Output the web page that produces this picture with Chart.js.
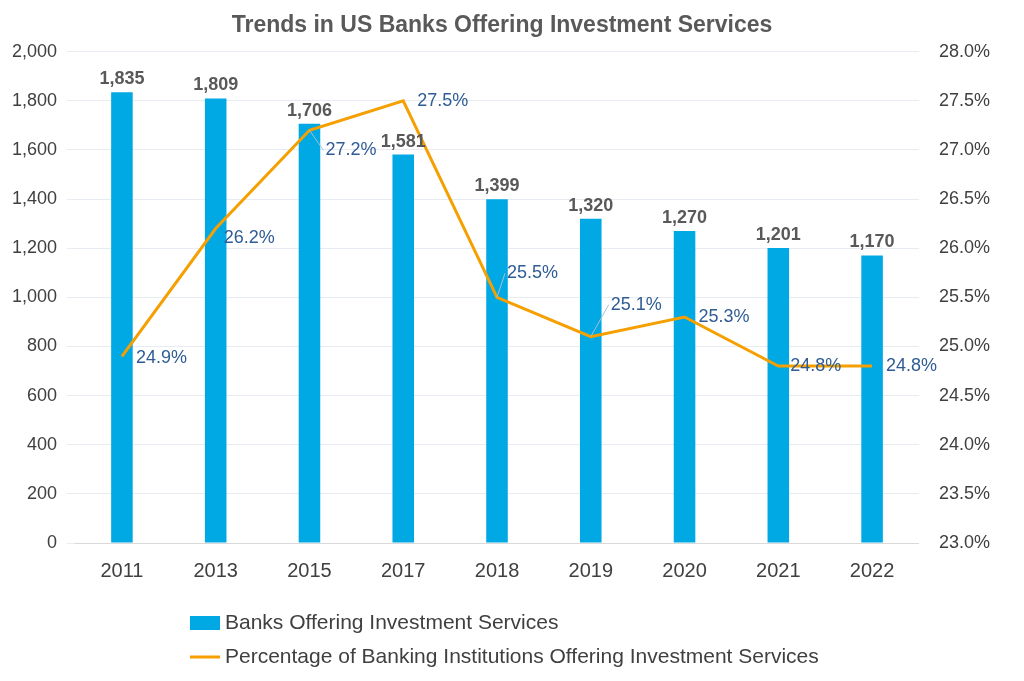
<!DOCTYPE html>
<html>
<head>
<meta charset="utf-8">
<script src="https://cdn.jsdelivr.net/npm/chart.js@4"></script>
<style>
  body { margin: 0; background: #fff; }
  #wrap { width: 1024px; height: 681px; }
</style>
</head>
<body>
<div id="wrap"><canvas id="c" width="1024" height="681"></canvas></div>
<script>
var years = ['2011', '2013', '2015', '2017', '2018', '2019', '2020', '2021', '2022'];
var banks = [1835, 1809, 1706, 1581, 1399, 1320, 1270, 1201, 1170];
var pct = [24.9, 26.2, 27.2, 27.5, 25.5, 25.1, 25.3, 24.8, 24.8];

var barColor = '#00A9E3';
var lineColor = '#F5A000';
var font = 'Arial, "Liberation Sans", sans-serif';

// label offsets for the percentage labels [dx, dy, leader]
var pctOffsets = [[14, 2, 0], [8, 10, 0], [16, 20, 1], [14, 0, 0], [10, -24, 1], [20, -32, 1], [14, 0, 0], [12, 0, 0], [14, 0, 0]];

var labelPlugin = {
  id: 'labels',
  afterDatasetsDraw: function (chart) {
    var ctx = chart.ctx;
    ctx.save();
    var bars = chart.getDatasetMeta(0).data;
    ctx.font = 'bold 18px ' + font;
    ctx.fillStyle = '#595959';
    ctx.textAlign = 'center';
    ctx.textBaseline = 'bottom';
    bars.forEach(function (b, i) {
      ctx.fillText(banks[i].toLocaleString('en-US'), b.x, b.y - 4);
    });
    var pts = chart.getDatasetMeta(1).data;
    ctx.font = '18px ' + font;
    ctx.textAlign = 'left';
    ctx.textBaseline = 'middle';
    pts.forEach(function (p, i) {
      var o = pctOffsets[i];
      var tx = p.x + o[0], ty = p.y + o[1];
      if (o[2]) {
        ctx.strokeStyle = '#A6BFD9';
        ctx.lineWidth = 1;
        ctx.beginPath();
        ctx.moveTo(p.x, p.y);
        ctx.lineTo(tx - 2, ty);
        ctx.stroke();
      }
      ctx.fillStyle = '#2F5C94';
      ctx.fillText(pct[i].toFixed(1) + '%', tx, ty);
    });
    ctx.restore();
  }
};

var legendPlugin = {
  id: 'bottomLegend',
  afterDraw: function (chart) {
    var ctx = chart.ctx;
    ctx.save();
    ctx.font = '21px ' + font;
    ctx.textBaseline = 'middle';
    ctx.fillStyle = barColor;
    ctx.fillRect(190, 616, 30, 14);
    ctx.fillStyle = '#404040';
    ctx.fillText('Banks Offering Investment Services', 225, 623);
    ctx.strokeStyle = lineColor;
    ctx.lineWidth = 3;
    ctx.beginPath();
    ctx.moveTo(190, 657);
    ctx.lineTo(220, 657);
    ctx.stroke();
    ctx.fillText('Percentage of Banking Institutions Offering Investment Services', 225, 657);
    ctx.restore();
  }
};

new Chart(document.getElementById('c').getContext('2d'), {
  type: 'bar',
  data: {
    labels: years,
    datasets: [{
      label: 'Banks Offering Investment Services',
      data: banks,
      backgroundColor: barColor,
      barPercentage: 0.23,
      categoryPercentage: 1,
      yAxisID: 'y',
      order: 2
    }, {
      type: 'line',
      label: 'Percentage of Banking Institutions Offering Investment Services',
      data: pct,
      borderColor: lineColor,
      borderWidth: 3,
      pointRadius: 0,
      tension: 0,
      yAxisID: 'y1',
      order: 1
    }]
  },
  options: {
    responsive: false,
    animation: false,
    layout: { padding: { left: 2, right: 22, top: 0, bottom: 90 } },
    plugins: {
      legend: { display: false },
      tooltip: { enabled: false },
      title: {
        display: true,
        text: 'Trends in US Banks Offering Investment Services',
        color: '#595959',
        font: { family: font, size: 23, weight: 'bold' },
        padding: { top: 12, bottom: 12 }
      }
    },
    scales: {
      x: {
        grid: { display: false },
        border: { color: '#D9D9D9' },
        ticks: { color: '#404040', font: { family: font, size: 20 }, padding: 8 }
      },
      y: {
        min: 0, max: 2000,
        ticks: { stepSize: 200, color: '#404040', font: { family: font, size: 18 }, padding: 10,
          callback: function (v) { return v.toLocaleString('en-US'); } },
        grid: { color: '#E6ECF2' },
        border: { display: false }
      },
      y1: {
        position: 'right',
        min: 23, max: 28,
        ticks: { stepSize: 0.5, color: '#404040', font: { family: font, size: 18 }, padding: 12,
          callback: function (v) { return v.toFixed(1) + '%'; } },
        grid: { display: false },
        border: { display: false }
      }
    }
  },
  plugins: [labelPlugin, legendPlugin]
});
</script>
</body>
</html>
